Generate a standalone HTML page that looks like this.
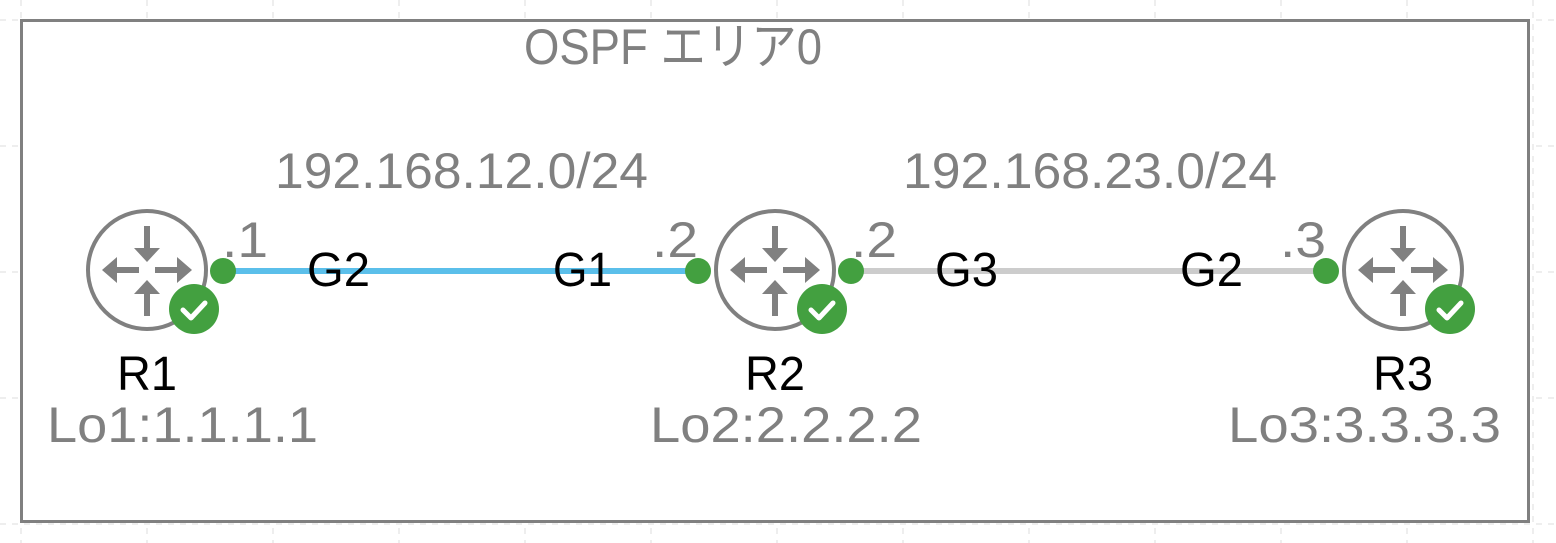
<!DOCTYPE html>
<html><head><meta charset="utf-8"><style>
html,body{margin:0;padding:0;background:#fff;}
svg{display:block;}
.g{font-family:"Liberation Sans","Noto Sans CJK JP",sans-serif;fill:#808080;font-size:50px;}
.b{font-family:"Liberation Sans",sans-serif;fill:#000;font-size:48px;}
</style></head><body>
<svg width="1556" height="543" xmlns="http://www.w3.org/2000/svg">
<defs>
<g id="rt">
<circle cx="0" cy="0" r="59" fill="#fff" stroke="#808080" stroke-width="4"/>
<g stroke="#808080" stroke-width="6" fill="none">
<line x1="0" y1="-44" x2="0" y2="-20"/>
<line x1="0" y1="46" x2="0" y2="22"/>
<line x1="-8" y1="0" x2="-32" y2="0"/>
<line x1="8" y1="0" x2="32" y2="0"/>
</g>
<g fill="#808080">
<polygon points="-13,-22 13,-22 0,-8"/>
<polygon points="-13,24 13,24 0,10"/>
<polygon points="-30,-13 -30,13 -45,0"/>
<polygon points="30,-13 30,13 45,0"/>
</g>
<circle cx="47" cy="39" r="25" fill="#43a040"/>
<polyline points="36,40 44,48 58,33" fill="none" stroke="#fff" stroke-width="5" stroke-linecap="round" stroke-linejoin="round"/>
</g>
</defs>
<g stroke="#ddd" stroke-width="1" stroke-dasharray="6,6">
<line x1="21" y1="0" x2="21" y2="543"/><line x1="147" y1="0" x2="147" y2="543"/><line x1="273" y1="0" x2="273" y2="543"/><line x1="399" y1="0" x2="399" y2="543"/><line x1="525" y1="0" x2="525" y2="543"/><line x1="651" y1="0" x2="651" y2="543"/><line x1="777" y1="0" x2="777" y2="543"/><line x1="903" y1="0" x2="903" y2="543"/><line x1="1029" y1="0" x2="1029" y2="543"/><line x1="1155" y1="0" x2="1155" y2="543"/><line x1="1281" y1="0" x2="1281" y2="543"/><line x1="1407" y1="0" x2="1407" y2="543"/><line x1="1533" y1="0" x2="1533" y2="543"/>
<line x1="0" y1="20" x2="1556" y2="20"/><line x1="0" y1="146" x2="1556" y2="146"/><line x1="0" y1="272" x2="1556" y2="272"/><line x1="0" y1="398" x2="1556" y2="398"/><line x1="0" y1="524" x2="1556" y2="524"/>
</g>
<rect x="21.5" y="20.5" width="1507" height="501" fill="#fff" stroke="#808080" stroke-width="3"/>
<text class="g" x="524" y="64" textLength="298" lengthAdjust="spacingAndGlyphs">OSPF エリア0</text>
<text class="g" x="275" y="188" textLength="373" lengthAdjust="spacingAndGlyphs">192.168.12.0/24</text>
<text class="g" x="903" y="188" textLength="374" lengthAdjust="spacingAndGlyphs">192.168.23.0/24</text>
<line x1="223" y1="271" x2="698" y2="271" stroke="#5bbfea" stroke-width="6"/>
<line x1="851" y1="271" x2="1326" y2="271" stroke="#cccccc" stroke-width="6"/>
<use href="#rt" x="147" y="270"/>
<use href="#rt" x="775" y="270"/>
<use href="#rt" x="1403" y="270"/>
<g fill="#43a040">
<circle cx="223" cy="271" r="13"/><circle cx="698" cy="271" r="13"/><circle cx="851" cy="271" r="13"/><circle cx="1326" cy="271" r="13"/>
</g>
<text class="g" x="222" y="257" textLength="46" lengthAdjust="spacingAndGlyphs">.1</text>
<text class="g" x="652" y="257" textLength="46" lengthAdjust="spacingAndGlyphs">.2</text>
<text class="g" x="851" y="257" textLength="46" lengthAdjust="spacingAndGlyphs">.2</text>
<text class="g" x="1280" y="257" textLength="46" lengthAdjust="spacingAndGlyphs">.3</text>
<text class="b" x="307" y="286" textLength="63" lengthAdjust="spacingAndGlyphs">G2</text>
<text class="b" x="553" y="286" textLength="59" lengthAdjust="spacingAndGlyphs">G1</text>
<text class="b" x="935" y="286" textLength="63" lengthAdjust="spacingAndGlyphs">G3</text>
<text class="b" x="1180" y="286" textLength="63" lengthAdjust="spacingAndGlyphs">G2</text>
<text class="b" x="117" y="390" textLength="60" lengthAdjust="spacingAndGlyphs">R1</text>
<text class="b" x="745" y="390" textLength="60" lengthAdjust="spacingAndGlyphs">R2</text>
<text class="b" x="1373" y="390" textLength="60" lengthAdjust="spacingAndGlyphs">R3</text>
<text class="g" x="47" y="442" textLength="271" lengthAdjust="spacingAndGlyphs">Lo1:1.1.1.1</text>
<text class="g" x="650" y="442" textLength="272" lengthAdjust="spacingAndGlyphs">Lo2:2.2.2.2</text>
<text class="g" x="1228" y="442" textLength="273" lengthAdjust="spacingAndGlyphs">Lo3:3.3.3.3</text>
</svg>
</body></html>
